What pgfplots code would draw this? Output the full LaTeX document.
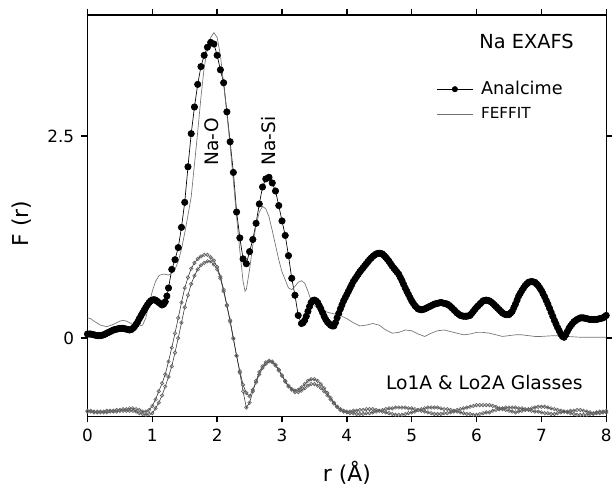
\documentclass[border=0pt]{standalone}
\usepackage{pgfplots}
\pgfplotsset{compat=1.18}
\usepackage{fontspec}
\setmainfont{DejaVu Sans}

% Analcime (filled dots)
\pgfplotstableread{
r F
0.000 0.05
0.025 0.05
0.050 0.05
0.075 0.045
0.100 0.04
0.125 0.035
0.150 0.03
0.175 0.03
0.200 0.03
0.225 0.035
0.250 0.04
0.275 0.05
0.300 0.06
0.325 0.07
0.350 0.08
0.375 0.09
0.400 0.10
0.425 0.105
0.450 0.11
0.475 0.115
0.500 0.12
0.525 0.12
0.550 0.12
0.575 0.115
0.600 0.11
0.625 0.105
0.650 0.10
0.675 0.105
0.700 0.12
0.725 0.14
0.750 0.17
0.775 0.20
0.800 0.24
0.825 0.275
0.850 0.31
0.875 0.345
0.900 0.38
0.925 0.41
0.950 0.44
0.975 0.46
1.000 0.47
1.025 0.475
1.050 0.47
1.075 0.455
1.100 0.44
1.125 0.425
1.150 0.41
1.175 0.42
1.200 0.45
1.225 0.52
1.250 0.62
1.30 0.85
1.35 0.97
1.40 1.12
1.45 1.37
1.50 1.68
1.55 2.12
1.60 2.53
1.65 2.86
1.70 3.14
1.75 3.36
1.80 3.50
1.85 3.60
1.90 3.66
1.95 3.64
2.00 3.50
2.05 3.32
2.10 3.16
2.15 2.80
2.20 2.43
2.25 2.05
2.30 1.56
2.35 1.24
2.40 0.98
2.45 0.92
2.50 1.07
2.55 1.22
2.60 1.42
2.65 1.66
2.70 1.87
2.75 1.97
2.80 1.99
2.85 1.92
2.90 1.82
2.95 1.64
3.00 1.45
3.05 1.27
3.10 1.02
3.15 0.74
3.20 0.53
3.25 0.28
3.300 0.18
3.325 0.19
3.350 0.22
3.375 0.27
3.400 0.33
3.425 0.39
3.450 0.44
3.475 0.465
3.500 0.47
3.525 0.46
3.550 0.44
3.575 0.40
3.600 0.36
3.625 0.315
3.650 0.27
3.675 0.23
3.700 0.20
3.725 0.18
3.750 0.16
3.775 0.15
3.800 0.15
3.825 0.19
3.850 0.25
3.875 0.305
3.900 0.36
3.925 0.41
3.950 0.46
3.975 0.50
4.000 0.54
4.025 0.58
4.050 0.62
4.075 0.66
4.100 0.70
4.125 0.73
4.150 0.76
4.175 0.79
4.200 0.82
4.225 0.845
4.250 0.87
4.275 0.895
4.300 0.92
4.325 0.945
4.350 0.97
4.375 0.99
4.400 1.01
4.425 1.025
4.450 1.04
4.475 1.047
4.500 1.05
4.525 1.047
4.550 1.04
4.575 1.02
4.600 1.00
4.625 0.975
4.650 0.95
4.675 0.92
4.700 0.89
4.725 0.865
4.750 0.84
4.775 0.815
4.800 0.79
4.825 0.75
4.850 0.71
4.875 0.665
4.900 0.62
4.925 0.58
4.950 0.54
4.975 0.50
5.000 0.46
5.025 0.43
5.050 0.40
5.075 0.38
5.100 0.36
5.125 0.355
5.150 0.35
5.175 0.355
5.200 0.36
5.225 0.37
5.250 0.38
5.275 0.39
5.300 0.40
5.325 0.41
5.350 0.42
5.375 0.425
5.400 0.43
5.425 0.435
5.450 0.44
5.475 0.435
5.500 0.43
5.525 0.425
5.550 0.42
5.575 0.405
5.600 0.39
5.625 0.37
5.650 0.35
5.675 0.33
5.700 0.31
5.725 0.295
5.750 0.28
5.775 0.275
5.800 0.27
5.825 0.27
5.850 0.27
5.875 0.275
5.900 0.28
5.925 0.305
5.950 0.33
5.975 0.355
6.000 0.38
6.025 0.40
6.050 0.42
6.075 0.44
6.100 0.46
6.125 0.465
6.150 0.47
6.175 0.465
6.200 0.46
6.225 0.445
6.250 0.43
6.275 0.41
6.300 0.39
6.325 0.37
6.350 0.35
6.375 0.33
6.400 0.31
6.425 0.30
6.450 0.29
6.475 0.29
6.500 0.29
6.525 0.31
6.550 0.33
6.575 0.375
6.600 0.42
6.625 0.47
6.650 0.52
6.675 0.555
6.700 0.59
6.725 0.62
6.750 0.65
6.775 0.67
6.800 0.69
6.825 0.695
6.850 0.70
6.875 0.695
6.900 0.69
6.925 0.67
6.950 0.65
6.975 0.62
7.000 0.59
7.025 0.55
7.050 0.51
7.075 0.465
7.100 0.42
7.125 0.37
7.150 0.32
7.175 0.27
7.200 0.22
7.225 0.175
7.250 0.13
7.275 0.09
7.300 0.05
7.325 0.02
7.350 0.01
7.375 0.04
7.400 0.08
7.425 0.12
7.450 0.15
7.475 0.175
7.500 0.20
7.525 0.215
7.550 0.23
7.575 0.24
7.600 0.25
7.625 0.25
7.650 0.25
7.675 0.245
7.700 0.24
7.725 0.235
7.750 0.23
7.775 0.23
7.800 0.23
7.825 0.23
7.850 0.23
7.875 0.235
7.900 0.24
7.925 0.245
7.950 0.25
7.975 0.265
8.000 0.28
}\analcime

% FEFFIT fit (thin grey line)
\pgfplotstableread{
r F
0.00 0.25
0.05 0.24
0.10 0.21
0.20 0.16
0.30 0.14
0.40 0.17
0.50 0.21
0.55 0.22
0.60 0.21
0.70 0.17
0.80 0.15
0.85 0.16
0.90 0.25
0.95 0.42
1.00 0.58
1.05 0.70
1.10 0.77
1.15 0.79
1.20 0.79
1.25 0.78
1.30 0.80
1.35 0.85
1.40 0.95
1.45 1.10
1.50 1.30
1.55 1.52
1.60 1.75
1.65 2.15
1.70 2.55
1.75 2.98
1.80 3.35
1.85 3.58
1.90 3.72
1.95 3.78
2.00 3.72
2.05 3.50
2.10 3.15
2.15 2.78
2.20 2.38
2.25 1.95
2.30 1.50
2.35 1.08
2.40 0.70
2.43 0.58
2.45 0.60
2.50 0.85
2.55 1.15
2.60 1.40
2.65 1.56
2.70 1.63
2.75 1.60
2.80 1.50
2.85 1.33
2.90 1.15
2.95 0.97
3.00 0.82
3.05 0.72
3.10 0.62
3.15 0.60
3.20 0.64
3.25 0.69
3.30 0.71
3.35 0.68
3.40 0.58
3.45 0.46
3.50 0.40
3.55 0.37
3.60 0.35
3.70 0.32
3.80 0.30
3.90 0.28
4.00 0.24
4.10 0.19
4.20 0.15
4.30 0.16
4.40 0.18
4.50 0.16
4.60 0.10
4.70 0.06
4.80 0.07
4.90 0.10
5.00 0.09
5.10 0.05
5.20 0.02
5.30 0.06
5.40 0.09
5.50 0.10
5.60 0.08
5.70 0.06
5.80 0.04
5.90 0.05
6.00 0.07
6.10 0.07
6.20 0.06
6.30 0.04
6.40 0.02
6.50 0.03
6.60 0.04
6.70 0.04
6.80 0.03
6.90 0.02
7.00 0.02
7.20 0.03
7.40 0.02
7.60 0.01
7.80 0.01
8.00 0.01
}\feffit

% Lo1A glass (offset)
\pgfplotstableread{
r F
0.00 -0.90
0.05 -0.90
0.10 -0.91
0.15 -0.91
0.20 -0.91
0.25 -0.91
0.30 -0.90
0.35 -0.90
0.40 -0.90
0.45 -0.89
0.50 -0.89
0.55 -0.88
0.60 -0.88
0.65 -0.87
0.70 -0.87
0.75 -0.88
0.80 -0.89
0.85 -0.91
0.90 -0.91
0.95 -0.89
1.00 -0.84
1.05 -0.76
1.10 -0.66
1.15 -0.56
1.20 -0.45
1.25 -0.29
1.30 -0.12
1.35 0.06
1.40 0.25
1.45 0.44
1.50 0.62
1.55 0.75
1.60 0.86
1.65 0.93
1.70 0.98
1.75 1.01
1.80 1.03
1.85 1.03
1.90 1.00
1.95 0.96
2.00 0.88
2.05 0.76
2.10 0.60
2.15 0.41
2.20 0.22
2.25 0.00
2.30 -0.22
2.35 -0.43
2.40 -0.66
2.45 -0.86
2.50 -0.80
2.55 -0.66
2.60 -0.53
2.65 -0.42
2.70 -0.35
2.75 -0.30
2.80 -0.28
2.85 -0.29
2.90 -0.33
2.95 -0.39
3.00 -0.46
3.05 -0.53
3.10 -0.59
3.15 -0.63
3.20 -0.65
3.25 -0.64
3.30 -0.61
3.35 -0.57
3.40 -0.53
3.45 -0.51
3.50 -0.51
3.55 -0.53
3.60 -0.57
3.65 -0.62
3.70 -0.68
3.75 -0.74
3.80 -0.80
3.85 -0.85
3.90 -0.89
3.95 -0.91
4.00 -0.92
4.05 -0.93
4.10 -0.93
4.15 -0.94
4.20 -0.94
4.25 -0.94
4.30 -0.93
4.35 -0.93
4.40 -0.92
4.45 -0.91
4.50 -0.90
4.55 -0.89
4.60 -0.88
4.65 -0.87
4.70 -0.87
4.75 -0.86
4.80 -0.86
4.85 -0.86
4.90 -0.86
4.95 -0.87
5.00 -0.87
5.05 -0.88
5.10 -0.89
5.15 -0.90
5.20 -0.91
5.25 -0.92
5.30 -0.93
5.35 -0.94
5.40 -0.94
5.45 -0.94
5.50 -0.93
5.55 -0.93
5.60 -0.92
5.65 -0.91
5.70 -0.89
5.75 -0.88
5.80 -0.87
5.85 -0.86
5.90 -0.85
5.95 -0.84
6.00 -0.83
6.05 -0.83
6.10 -0.83
6.15 -0.83
6.20 -0.83
6.25 -0.84
6.30 -0.85
6.35 -0.87
6.40 -0.88
6.45 -0.89
6.50 -0.90
6.55 -0.91
6.60 -0.92
6.65 -0.91
6.70 -0.90
6.75 -0.89
6.80 -0.88
6.85 -0.87
6.90 -0.86
6.95 -0.85
7.00 -0.85
7.05 -0.85
7.10 -0.86
7.15 -0.87
7.20 -0.88
7.25 -0.89
7.30 -0.90
7.35 -0.91
7.40 -0.92
7.45 -0.93
7.50 -0.94
7.55 -0.95
7.60 -0.95
7.65 -0.95
7.70 -0.95
7.75 -0.94
7.80 -0.94
7.85 -0.93
7.90 -0.93
7.95 -0.92
8.00 -0.92
}\loone

% Lo2A glass (offset)
\pgfplotstableread{
r F
0.00 -0.91
0.05 -0.91
0.10 -0.92
0.15 -0.92
0.20 -0.92
0.25 -0.92
0.30 -0.92
0.35 -0.91
0.40 -0.91
0.45 -0.91
0.50 -0.90
0.55 -0.90
0.60 -0.90
0.65 -0.90
0.70 -0.90
0.75 -0.91
0.80 -0.93
0.85 -0.94
0.90 -0.95
0.95 -0.94
1.00 -0.93
1.05 -0.87
1.10 -0.80
1.15 -0.71
1.20 -0.60
1.25 -0.48
1.30 -0.35
1.35 -0.18
1.40 0.00
1.45 0.19
1.50 0.38
1.55 0.53
1.60 0.67
1.65 0.77
1.70 0.85
1.75 0.90
1.80 0.93
1.85 0.95
1.90 0.95
1.95 0.91
2.00 0.85
2.05 0.74
2.10 0.58
2.15 0.40
2.20 0.20
2.25 -0.01
2.30 -0.22
2.35 -0.41
2.40 -0.58
2.45 -0.68
2.50 -0.72
2.55 -0.64
2.60 -0.55
2.65 -0.45
2.70 -0.37
2.75 -0.32
2.80 -0.29
2.85 -0.30
2.90 -0.34
2.95 -0.40
3.00 -0.47
3.05 -0.54
3.10 -0.60
3.15 -0.64
3.20 -0.67
3.25 -0.67
3.30 -0.65
3.35 -0.62
3.40 -0.59
3.45 -0.57
3.50 -0.57
3.55 -0.59
3.60 -0.62
3.65 -0.66
3.70 -0.71
3.75 -0.76
3.80 -0.81
3.85 -0.85
3.90 -0.88
3.95 -0.90
4.00 -0.91
4.05 -0.91
4.10 -0.90
4.15 -0.90
4.20 -0.89
4.25 -0.89
4.30 -0.88
4.35 -0.88
4.40 -0.88
4.45 -0.89
4.50 -0.90
4.55 -0.91
4.60 -0.92
4.65 -0.93
4.70 -0.94
4.75 -0.95
4.80 -0.95
4.85 -0.95
4.90 -0.94
4.95 -0.93
5.00 -0.92
5.05 -0.91
5.10 -0.89
5.15 -0.88
5.20 -0.87
5.25 -0.86
5.30 -0.86
5.35 -0.86
5.40 -0.86
5.45 -0.87
5.50 -0.88
5.55 -0.88
5.60 -0.89
5.65 -0.90
5.70 -0.91
5.75 -0.92
5.80 -0.93
5.85 -0.94
5.90 -0.94
5.95 -0.95
6.00 -0.95
6.05 -0.94
6.10 -0.93
6.15 -0.92
6.20 -0.92
6.25 -0.90
6.30 -0.89
6.35 -0.88
6.40 -0.87
6.45 -0.86
6.50 -0.86
6.55 -0.86
6.60 -0.86
6.65 -0.87
6.70 -0.87
6.75 -0.88
6.80 -0.89
6.85 -0.90
6.90 -0.91
6.95 -0.91
7.00 -0.92
7.05 -0.93
7.10 -0.93
7.15 -0.94
7.20 -0.94
7.25 -0.93
7.30 -0.92
7.35 -0.91
7.40 -0.91
7.45 -0.90
7.50 -0.90
7.55 -0.89
7.60 -0.89
7.65 -0.90
7.70 -0.91
7.75 -0.92
7.80 -0.93
7.85 -0.92
7.90 -0.91
7.95 -0.91
8.00 -0.90
}\lotwo

\begin{document}
\begin{tikzpicture}
\begin{axis}[
  scale only axis,
  width=391.5pt, height=303pt,
  xmin=0, xmax=8, ymin=-0.97, ymax=4,
  xtick={0,1,...,8}, ytick={0,2.5},
  tick align=outside, tick pos=both,
  major tick length=4.5pt,
  axis line style={line width=1.1pt},
  every tick/.style={black, line width=1pt},
  minor tick num=0,
  /pgf/number format/assume math mode=true,
  ticklabel style={font=\fontsize{12.7}{14}\selectfont},
  xticklabel style={yshift=-1.5pt},
  yticklabel style={xshift=-2pt},
  xlabel={r (Å)}, ylabel={F (r)},
  label style={font=\fontsize{16.5}{19}\selectfont},
  xlabel style={at={(axis description cs:0.5,-0.140)}, anchor=center},
  ylabel style={at={(axis description cs:-0.126,0.48)}, anchor=center},
  legend cell align=left,
  legend style={draw=none, fill=none, at={(axis description cs:0.665,0.848)}, anchor=north west,
    row sep=4pt, font=\fontsize{13.3}{15}\selectfont,
    /tikz/every odd column/.append style={column sep=4pt}},
]
\addplot[black!85, line width=0.4pt, mark=o, mark size=1.3pt,
  mark options={draw=black!60, line width=0.5pt}, forget plot] table[x=r, y=F] {\loone};
\addplot[black!85, line width=0.4pt, mark=o, mark size=1.3pt,
  mark options={draw=black!60, line width=0.5pt}, forget plot] table[x=r, y=F] {\lotwo};
\addplot[black, line width=0.5pt, mark=*, mark size=2.4pt,
  legend image code/.code={\draw[black, line width=0.5pt] (0pt,0pt) -- (27pt,0pt);
    \fill[black] (13.5pt,0pt) circle (2pt);}] table[x=r, y=F] {\analcime};
\addlegendentry{Analcime}
\addplot[black!55, line width=0.5pt,
  legend image code/.code={\draw[black!55, line width=0.5pt] (0pt,0pt) -- (27pt,0pt);}] table[x=r, y=F] {\feffit};
\addlegendentry{\fontsize{11.5}{13}\selectfont FEFFIT}

\node[font=\fontsize{14.6}{17}\selectfont] at (axis cs:6.77,3.67) {Na EXAFS};
\node[rotate=90, font=\fontsize{14}{16}\selectfont] at (axis cs:1.92,2.43) {Na-O};
\node[rotate=90, font=\fontsize{14}{16}\selectfont] at (axis cs:2.79,2.44) {Na-Si};
\node[font=\fontsize{14.1}{16}\selectfont] at (axis cs:6.12,-0.55) {Lo1A \& Lo2A Glasses};
\end{axis}
\path ([shift={(-66pt,-51pt)}]current axis.south west) rectangle ([shift={(4.5pt,11.25pt)}]current axis.north east);
\end{tikzpicture}
\end{document}
